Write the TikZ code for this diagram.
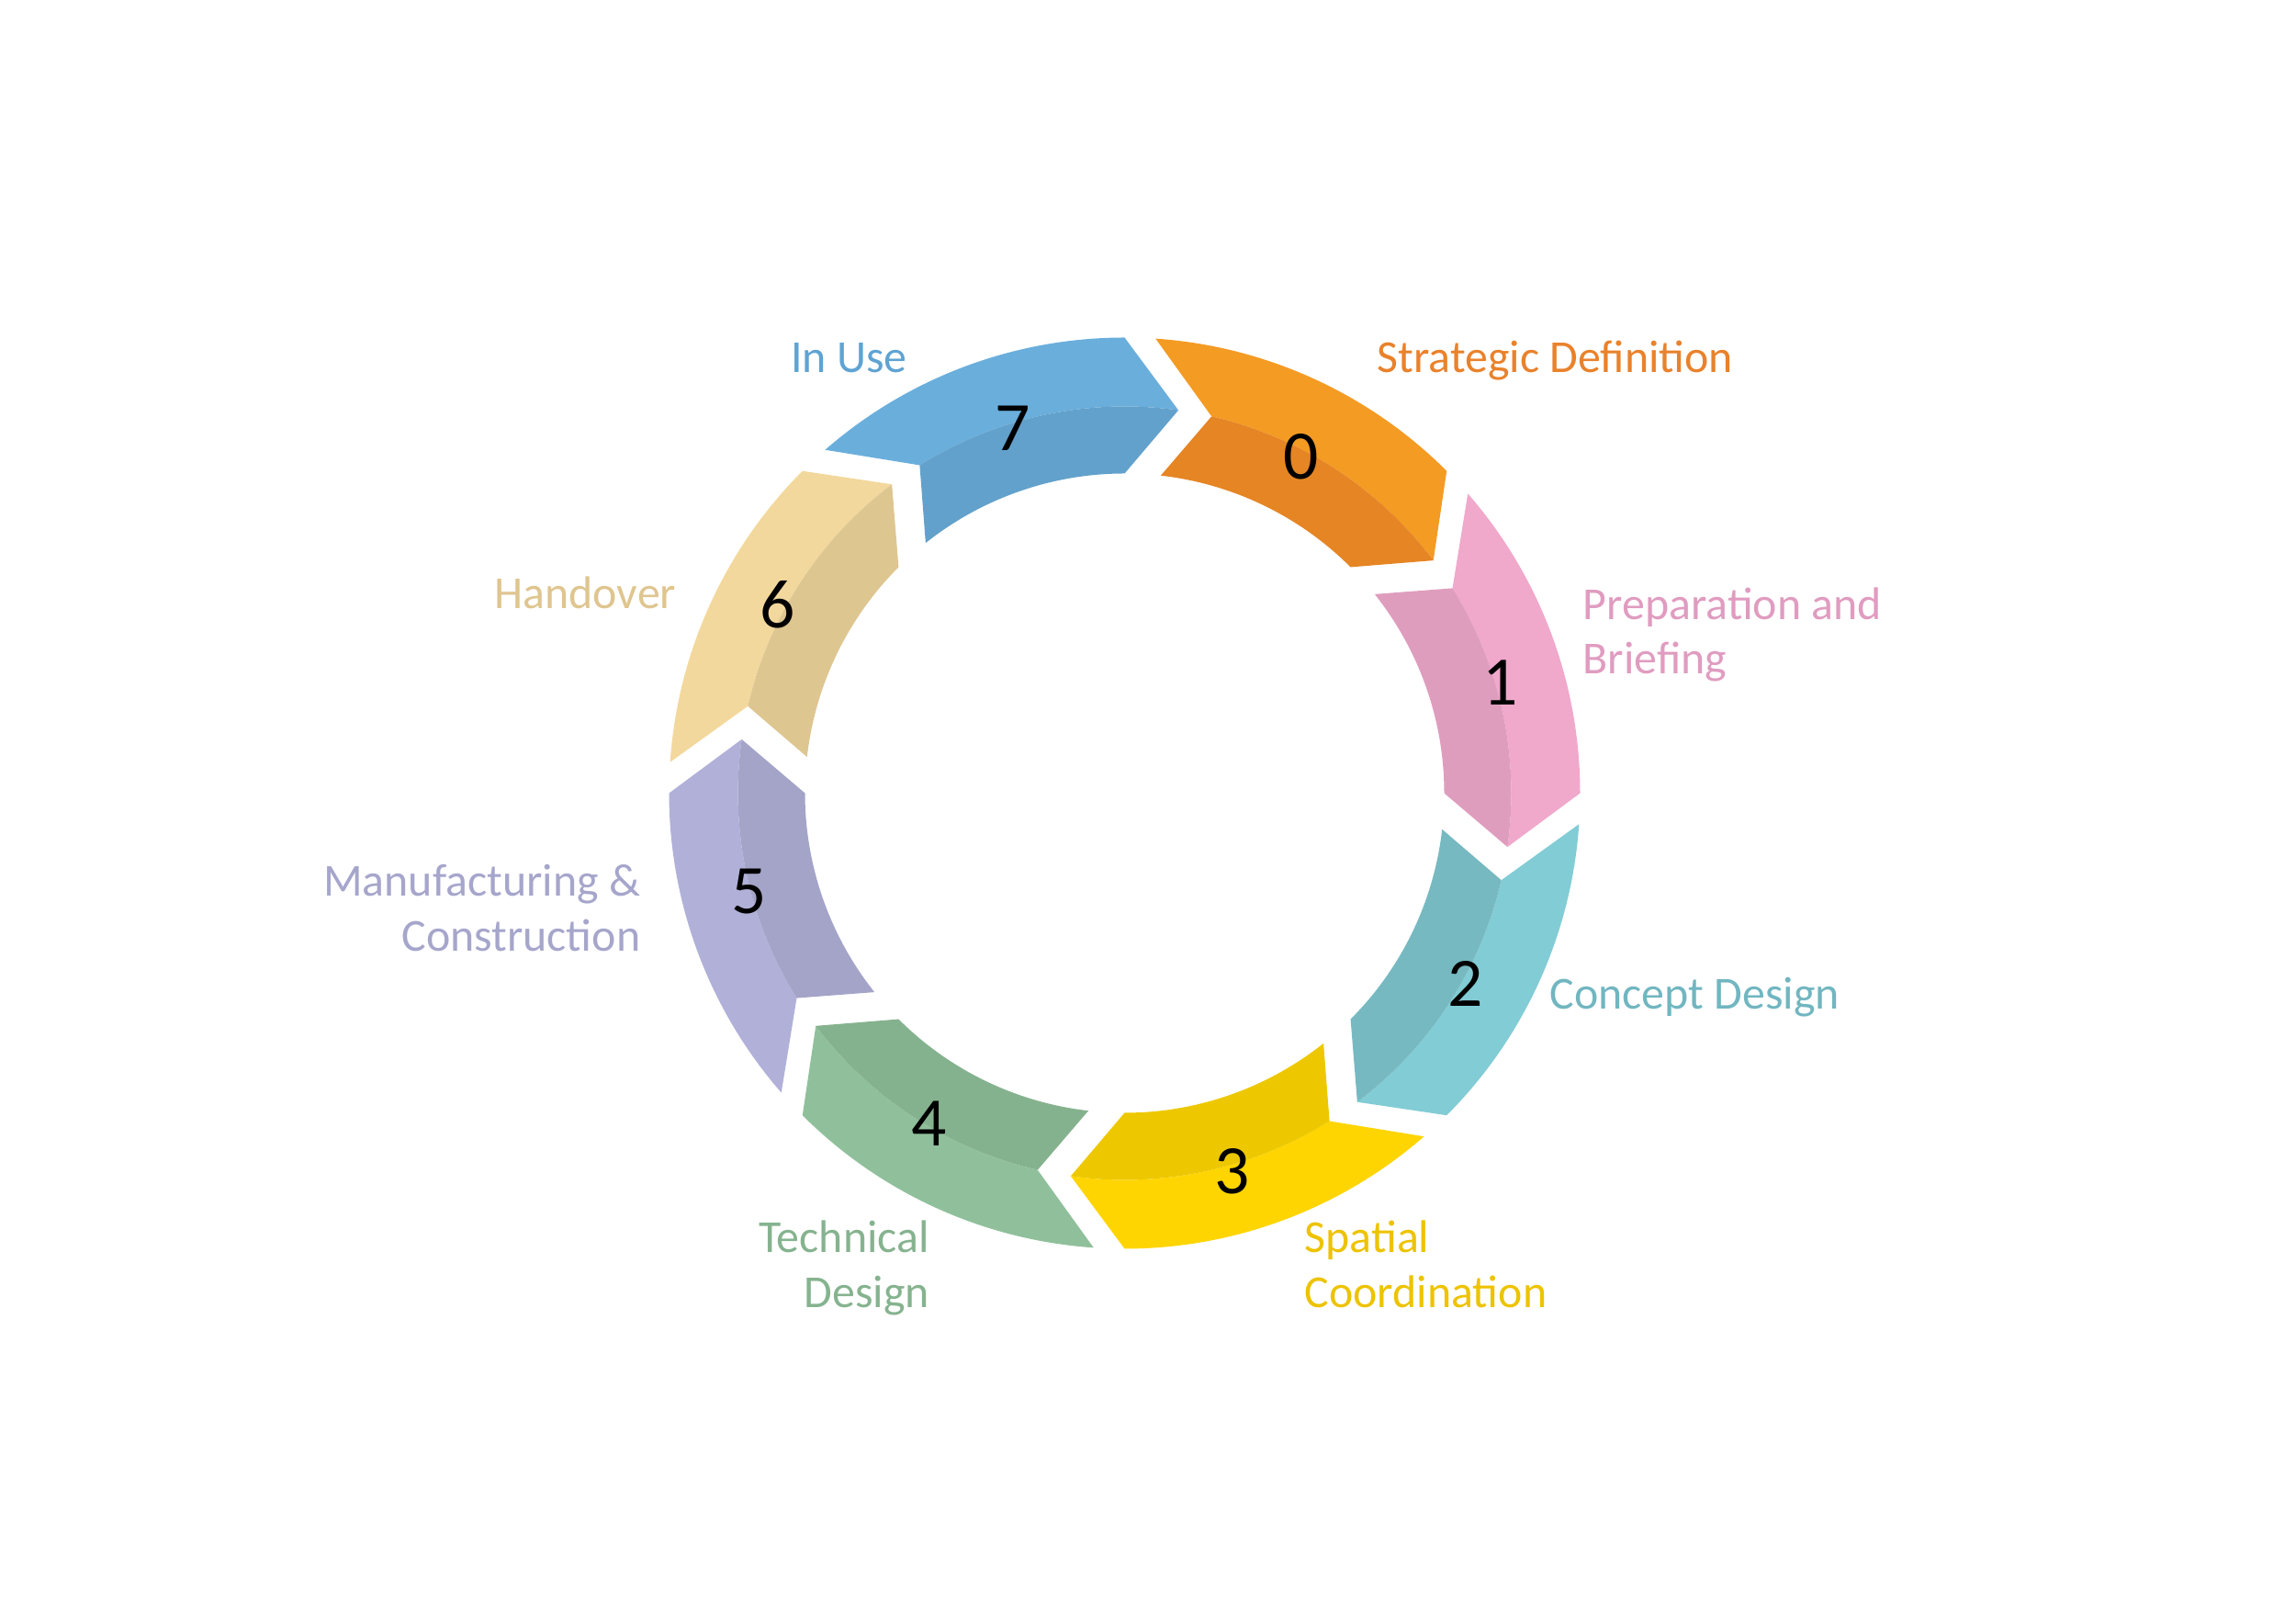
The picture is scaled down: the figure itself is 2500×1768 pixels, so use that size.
\documentclass[tikz,border=0pt]{standalone}
\usepackage{fontspec}
\setmainfont{Carlito}
\definecolor{oL}{HTML}{F49B24}\definecolor{oD}{HTML}{E68524}\definecolor{oT}{HTML}{E9822B}
\definecolor{pL}{HTML}{F0A8CB}\definecolor{pD}{HTML}{DF9DBE}\definecolor{pT}{HTML}{E09CC0}
\definecolor{tL}{HTML}{82CCD5}\definecolor{tD}{HTML}{77B9C1}\definecolor{tT}{HTML}{71B6C0}
\definecolor{yL}{HTML}{FED500}\definecolor{yD}{HTML}{EDC800}\definecolor{yT}{HTML}{EDC300}
\definecolor{gL}{HTML}{90C09B}\definecolor{gD}{HTML}{85B28E}\definecolor{gT}{HTML}{86B38F}
\definecolor{vL}{HTML}{B1B0D8}\definecolor{vD}{HTML}{A4A4C8}\definecolor{vT}{HTML}{A6A6CC}
\definecolor{hL}{HTML}{F3D89D}\definecolor{hD}{HTML}{DEC691}\definecolor{hT}{HTML}{DFC58F}
\definecolor{bL}{HTML}{6AAEDC}\definecolor{bD}{HTML}{62A1CB}\definecolor{bT}{HTML}{5FA3D2}
\begin{document}
\begin{tikzpicture}[x=0.1mm,y=0.1mm,
  numlab/.style={font=\fontsize{21.5pt}{26pt}\selectfont, text=black, inner sep=0pt},
  steplab/.style={font=\fontsize{14.2pt}{17pt}\selectfont, inner sep=0pt}]
\useasboundingbox (0,0) rectangle (2500,1768);
\coordinate (C) at (1224.5,904.5);
\begin{scope}[shift={(C)}]
\foreach \k/\lc/\dc in {0/oL/oD,1/pL/pD,2/tL/tD,3/yL/yD,4/gL/gD,5/vL/vD,6/hL/hD,7/bL/bD}{
  \pgfmathsetmacro{\th}{45-45*\k}
  \fill[\lc] (\th+41.1:49.6mm) arc[start angle=\th+41.1, end angle=\th, radius=49.6mm]
     -- (\th-8:42.1mm) arc[start angle=\th-8, end angle=\th+32, radius=42.1mm] -- cycle;
  \fill[\dc] (\th+32:42.1mm) arc[start angle=\th+32, end angle=\th-8, radius=42.1mm]
     -- (\th:34.8mm) arc[start angle=\th, end angle=\th+38.5, radius=34.8mm] -- cycle;
}
\end{scope}
% numbers
\node[numlab] (n0) at (1417,1271) {0};
\node[numlab] (n1) at (1634,1025) {1};
\node[numlab] (n2) at (1596,697) {2};
\node[numlab] (n3) at (1342,493) {3};
\node[numlab] (n4) at (1012,545) {4};
\node[numlab] (n5) at (816,797) {5};
\node[numlab] (n6) at (847,1110) {6};
\node[numlab] (n7) at (1103,1302) {7};
% labels
\node[steplab, text=oT, anchor=base west] (l0) at (1499,1362.3) {Strategic Definition};
\node[steplab, text=pT, anchor=base west] (l1a) at (1723,1093.7) {Preparation and};
\node[steplab, text=pT, anchor=base west] (l1b) at (1723,1034) {Briefing};
\node[steplab, text=tT, anchor=base west] (l2) at (1687,669) {Concept Design};
\node[steplab, text=yT, anchor=base west] (l3a) at (1420,404) {Spatial};
\node[steplab, text=yT, anchor=base west] (l3b) at (1420,344) {Coordination};
\node[steplab, text=gT, anchor=base east] (l4a) at (1012.5,404) {Technical};
\node[steplab, text=gT, anchor=base east] (l4b) at (1012.5,344) {Design};
\node[steplab, text=vT, anchor=base east] (l5a) at (698,792) {Manufacturing \&};
\node[steplab, text=vT, anchor=base east] (l5b) at (698,732) {Construction};
\node[steplab, text=hT, anchor=base east] (l6) at (737,1105) {Handover};
\node[steplab, text=bT, anchor=base east] (l7) at (988.5,1362.3) {In Use};
\end{tikzpicture}
\end{document}
